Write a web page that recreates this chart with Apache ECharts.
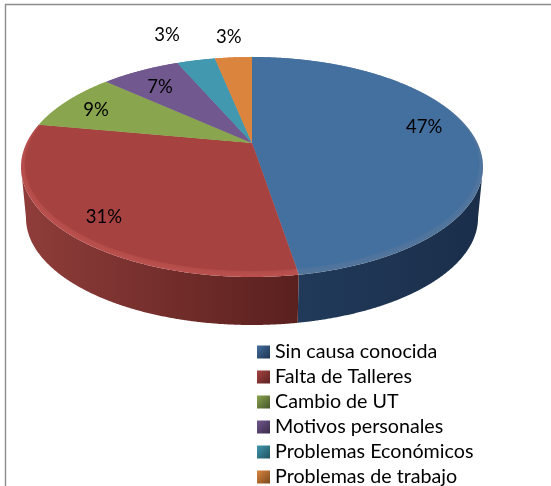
<!DOCTYPE html>
<html>
<head>
<meta charset="utf-8">
<style>
  html, body { margin: 0; padding: 0; background: #fff; }
  #chart { width: 551px; height: 486px; }
</style>
<script src="https://cdn.jsdelivr.net/npm/echarts@6/dist/echarts.min.js"></script>
</head>
<body>
<div id="chart"></div>
<script>
const categories = ['Sin causa conocida', 'Falta de Talleres', 'Cambio de UT', 'Motivos personales', 'Problemas Económicos', 'Problemas de trabajo'];
const shares = [47.4, 30.5, 8.8, 6.8, 3.3, 3.2];

const topColors = ['#44709f', '#a64341', '#89a54e', '#71588f', '#4198af', '#db843d'];
const bevelColors = ['#54769c', '#bd524f', '#89a54e', '#71588f', '#4198af', '#db843d'];
const wallLeft = ['#213a5a', '#8f3d3a', '#5f7336', '#4e3d63', '#2d6a7a', '#98602a'];
const wallRight = ['#1a2e4a', '#5a201e', '#5f7336', '#4e3d63', '#2d6a7a', '#98602a'];
const swatchDark = ['#1e3350', '#5a2220', '#46552a', '#3a2c4b', '#215260', '#7a4a1e'];

// label anchors in ellipse units, relative to the top face
const labelSpots = [[0.745, 0.364], [-0.641, -0.455], [-0.675, 0.518], [-0.398, 0.727], [-0.368, 1.2], [-0.1, 1.182]];

const face = { cx: 252, cy: 167, rx: 231, ry: 110 };
const inner = { cx: 252, cy: 164, rx: 227, ry: 107 };
const base = { cx: 252, cy: 218, rx: 226, ry: 107 };
const apexQ = 0.11; // tilt of the pie: apex sits above the ellipse centre

// clockwise angle from 12 o'clock -> point on the unit circle, after perspective
function rim(deg) {
  const phi = (90 - deg) * Math.PI / 180;
  const x = Math.cos(phi), y = Math.sin(phi);
  const ny = y + apexQ;
  const dr = 1 + apexQ * y, di = -apexQ * x;
  const d = dr * dr + di * di;
  return [(x * dr + ny * di) / d, (ny * dr - x * di) / d];
}
function place(e, p) {
  return [e.cx + e.rx * p[0], e.cy - e.ry * p[1]];
}
const apexY = face.cy - face.ry * (2 * apexQ / (1 + apexQ * apexQ));
const apex = [face.cx, apexY];

const total = shares.reduce((a, b) => a + b, 0);
function sliceRim(i) {
  let start = 0;
  for (let k = 0; k < i; k++) start += shares[k];
  const a0 = start / total * 360, a1 = (start + shares[i]) / total * 360;
  const pts = [];
  for (let a = a0; a < a1; a += 0.25) pts.push(rim(a));
  pts.push(rim(a1));
  return pts;
}

function renderSlice(i) {
  return function () {
    const pts = sliceRim(i);
    const children = [];

    const front = pts.filter(p => p[1] <= 0);
    if (front.length > 1) {
      const wall = front.map(p => place(face, p)).concat(front.slice().reverse().map(p => place(base, p)));
      const xs = wall.map(p => p[0]);
      children.push({
        type: 'polygon',
        shape: { points: wall },
        style: {
          fill: {
            type: 'linear', global: true,
            x: Math.min.apply(null, xs), y: 0, x2: Math.max.apply(null, xs), y2: 0,
            colorStops: [{ offset: 0, color: wallLeft[i] }, { offset: 1, color: wallRight[i] }]
          }
        }
      });
    }

    const outerPoly = [apex].concat(pts.map(p => place(face, p)));
    children.push({ type: 'polygon', shape: { points: outerPoly }, style: { fill: bevelColors[i] } });
    children.push({
      type: 'polygon',
      shape: { points: [apex].concat(pts.map(p => place(inner, p))) },
      style: { fill: topColors[i], shadowColor: topColors[i], shadowBlur: 8 },
      clipPath: { type: 'polygon', shape: { points: outerPoly } }
    });
    return { type: 'group', children: children };
  };
}

function renderLabel(i) {
  return function () {
    const spot = place(face, labelSpots[i]);
    return {
      type: 'text',
      x: spot[0], y: spot[1],
      style: {
        text: Math.round(shares[i]) + '%',
        font: '18.5px Lato', fill: '#000',
        align: 'center', verticalAlign: 'middle'
      }
    };
  };
}

const chart = echarts.init(document.getElementById('chart'), null, { renderer: 'canvas' });

const series = categories.map((name, i) => ({
  name: name,
  type: 'custom',
  coordinateSystem: 'none',
  silent: true,
  z: 2,
  data: [shares[i]],
  itemStyle: { color: topColors[i] },
  renderItem: renderSlice(i)
})).concat(categories.map((name, i) => ({
  name: name + ' label',
  type: 'custom',
  coordinateSystem: 'none',
  silent: true,
  z: 3,
  data: [shares[i]],
  renderItem: renderLabel(i)
})));

chart.setOption({
  animation: false,
  backgroundColor: '#fff',
  graphic: [
    { type: 'line', shape: { x1: 5, y1: 4.5, x2: 551, y2: 4.5 }, style: { stroke: '#8c8c8c', lineWidth: 1.4 } },
    { type: 'line', shape: { x1: 5.5, y1: 4, x2: 5.5, y2: 486 }, style: { stroke: '#8c8c8c', lineWidth: 1.4 } }
  ],
  legend: {
    orient: 'vertical',
    left: 257,
    top: 341,
    height: 200,
    padding: 0,
    itemWidth: 13,
    itemHeight: 13,
    itemGap: 3,
    icon: 'rect',
    selectedMode: false,
    textStyle: { fontFamily: 'Lato', fontSize: 19.7, color: '#000', padding: 0, lineHeight: 22 },
    data: categories.map((name, i) => ({
      name: name,
      itemStyle: {
        color: {
          type: 'linear', x: 0, y: 0, x2: 1, y2: 1,
          colorStops: [{ offset: 0, color: topColors[i] }, { offset: 1, color: swatchDark[i] }]
        }
      }
    }))
  },
  series: series
});

window.addEventListener('resize', () => chart.resize());
</script>
</body>
</html>
